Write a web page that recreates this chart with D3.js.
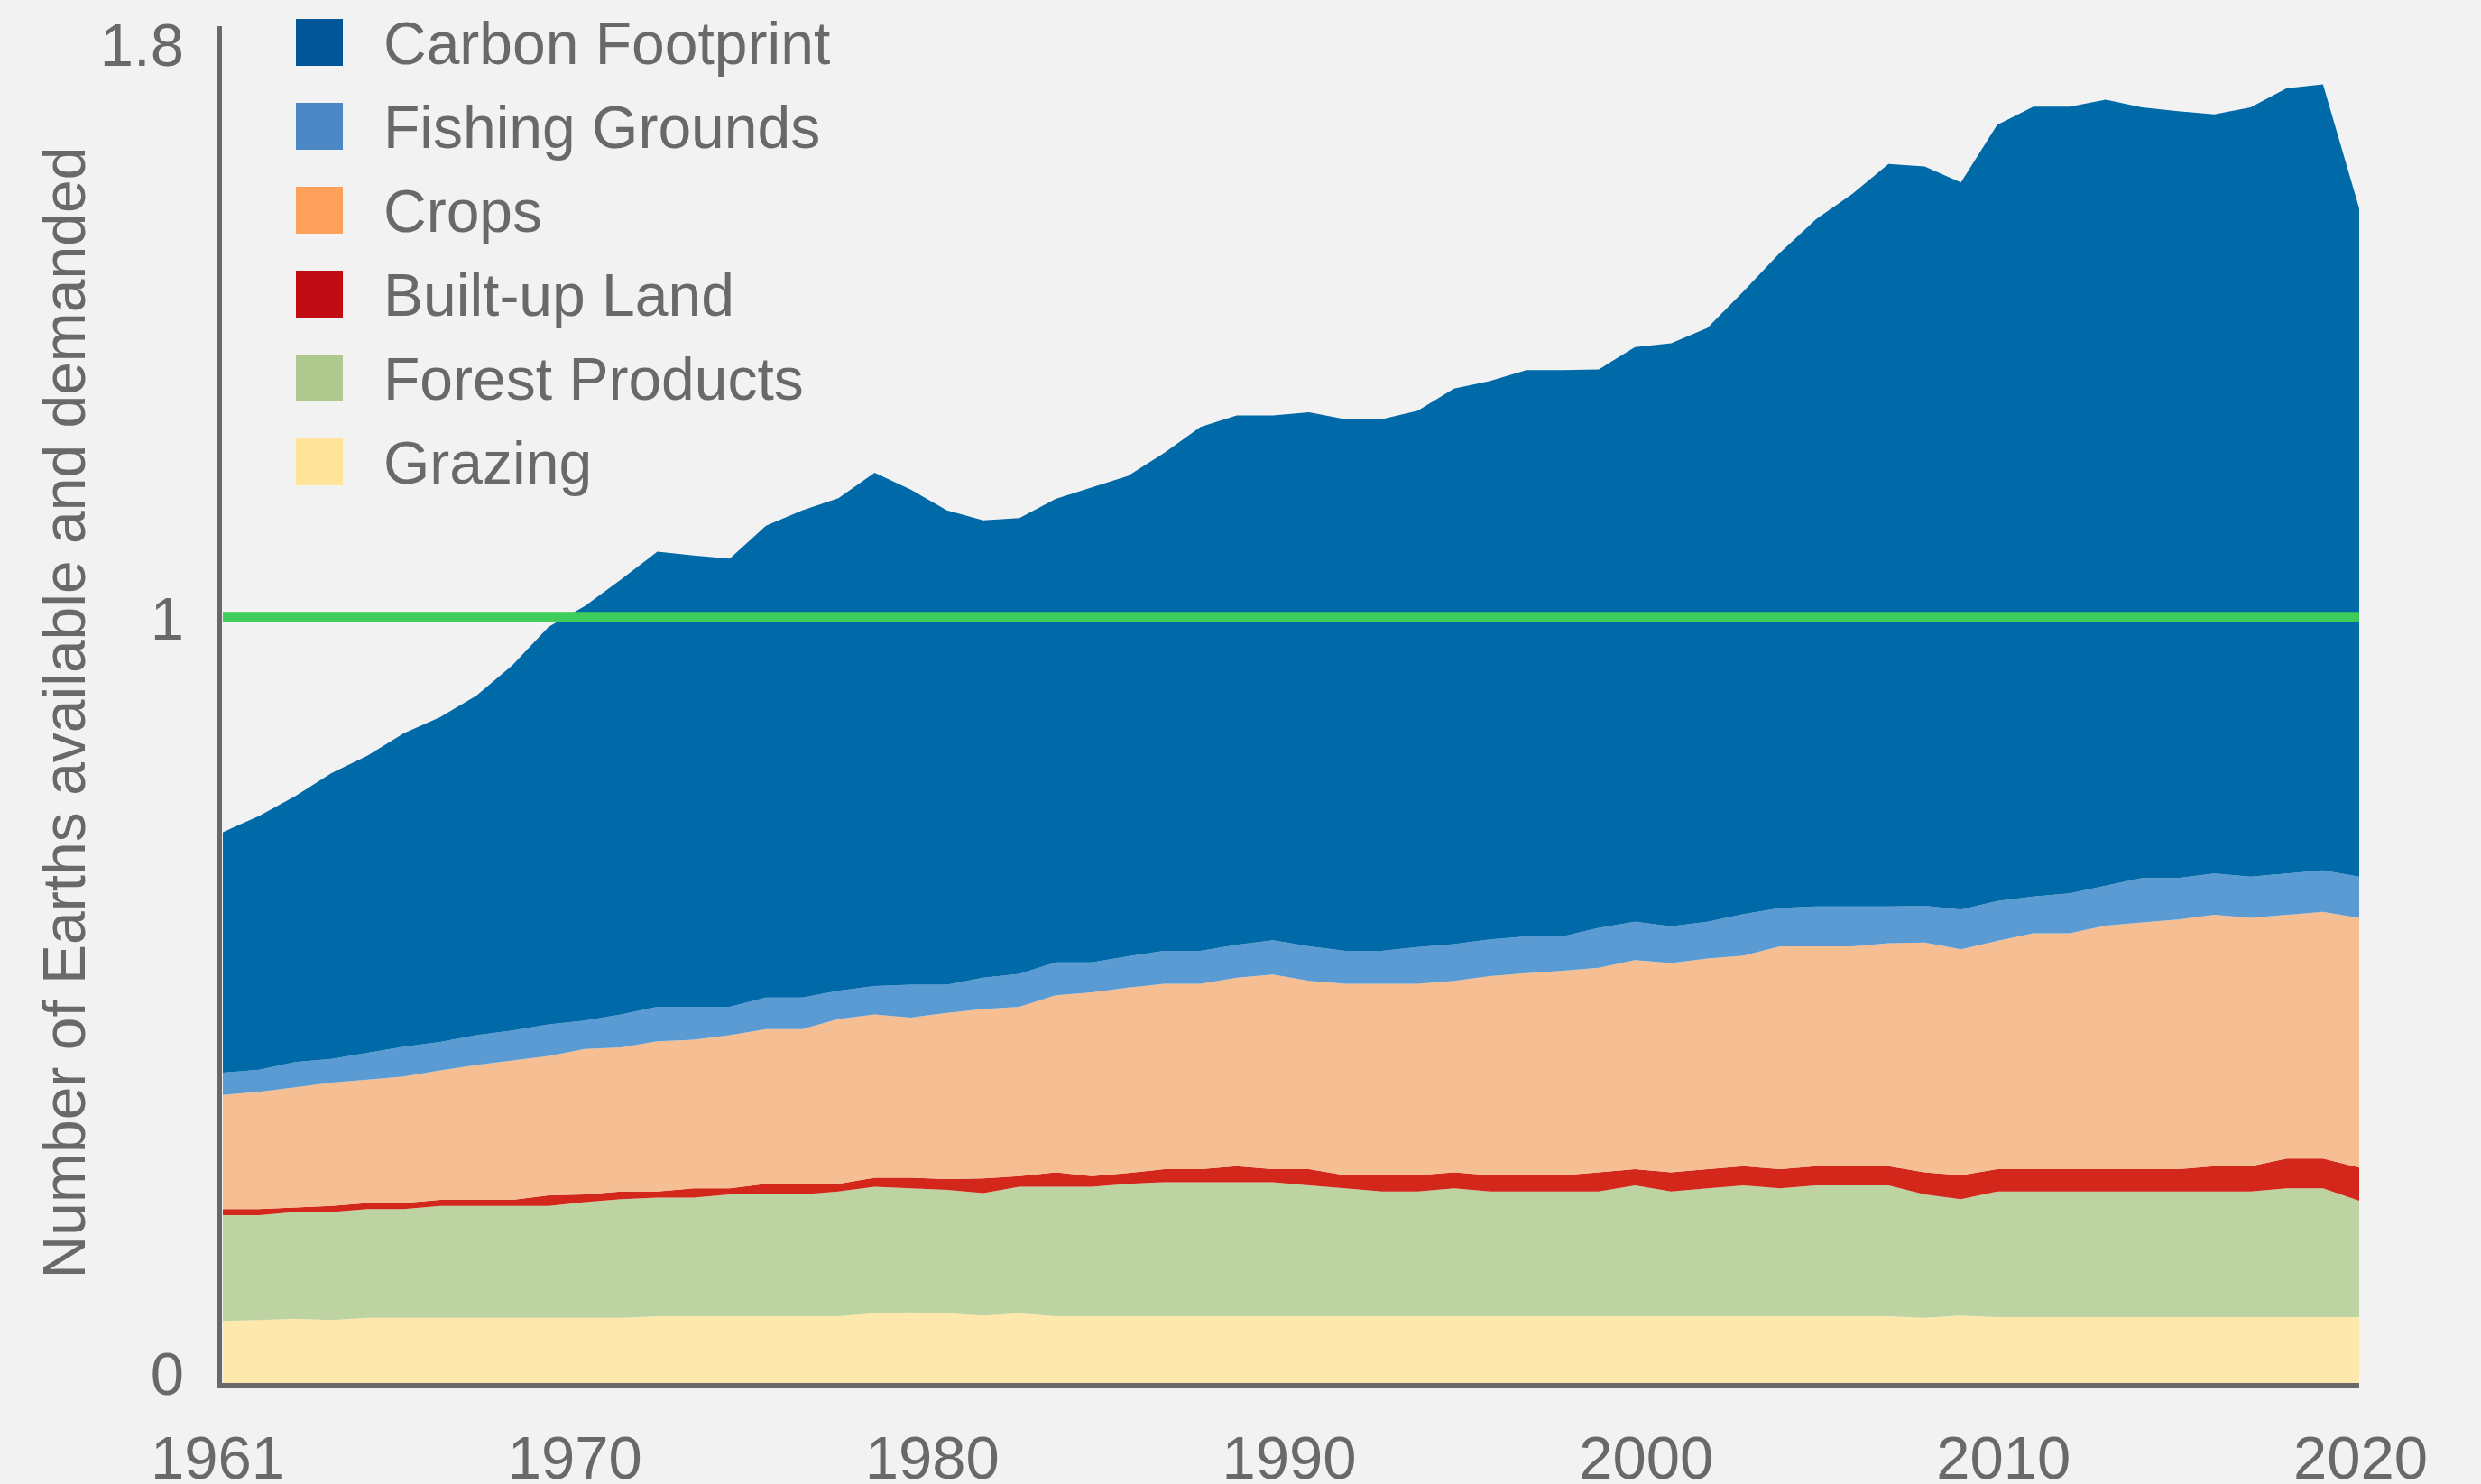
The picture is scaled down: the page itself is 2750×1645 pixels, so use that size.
<!DOCTYPE html>
<html>
<head>
<meta charset="utf-8">
<script src="https://cdn.jsdelivr.net/npm/d3@7"></script>
<style>
  html, body { margin: 0; padding: 0; background: #f2f2f2; }
  svg { display: block; font-family: "Liberation Sans", Arial, sans-serif; }
</style>
</head>
<body>
<div id="chart"></div>
<script>
// ---- data ----
const years = d3.range(1961, 2021);

const grazing = [0.081, 0.082, 0.084, 0.082, 0.085, 0.085, 0.085, 0.085, 0.085, 0.085,
                 0.085, 0.085, 0.087, 0.087, 0.087, 0.087, 0.087, 0.087, 0.091, 0.092,
                 0.091, 0.088, 0.091, 0.087, 0.087, 0.087, 0.087, 0.087, 0.087, 0.087,
                 0.087, 0.087, 0.087, 0.087, 0.087, 0.087, 0.087, 0.087, 0.087, 0.087,
                 0.087, 0.087, 0.087, 0.087, 0.087, 0.087, 0.087, 0.085, 0.088, 0.086,
                 0.086, 0.086, 0.086, 0.086, 0.086, 0.086, 0.086, 0.086, 0.086, 0.086];

const forest = [0.138, 0.137, 0.139, 0.141, 0.142, 0.142, 0.146, 0.146, 0.146, 0.146,
                0.151, 0.155, 0.155, 0.155, 0.159, 0.159, 0.159, 0.163, 0.165, 0.162,
                0.161, 0.160, 0.165, 0.169, 0.169, 0.173, 0.175, 0.175, 0.175, 0.175,
                0.171, 0.167, 0.163, 0.163, 0.167, 0.163, 0.163, 0.163, 0.163, 0.171,
                0.163, 0.167, 0.171, 0.167, 0.171, 0.171, 0.171, 0.161, 0.152, 0.164,
                0.164, 0.164, 0.164, 0.164, 0.164, 0.164, 0.164, 0.168, 0.168, 0.152];

const builtUp = [0.008, 0.008, 0.006, 0.008, 0.008, 0.008, 0.008, 0.008, 0.008, 0.014,
                 0.010, 0.010, 0.008, 0.012, 0.008, 0.014, 0.014, 0.010, 0.012, 0.014,
                 0.014, 0.019, 0.014, 0.019, 0.014, 0.014, 0.017, 0.017, 0.021, 0.017,
                 0.021, 0.017, 0.021, 0.021, 0.021, 0.021, 0.021, 0.021, 0.025, 0.021,
                 0.025, 0.025, 0.025, 0.025, 0.025, 0.025, 0.025, 0.029, 0.031, 0.029,
                 0.029, 0.029, 0.029, 0.029, 0.029, 0.033, 0.033, 0.039, 0.039, 0.043];

const crops = [0.149, 0.153, 0.157, 0.161, 0.161, 0.165, 0.169, 0.176, 0.182, 0.182,
               0.190, 0.188, 0.196, 0.194, 0.200, 0.202, 0.202, 0.215, 0.213, 0.209,
               0.217, 0.221, 0.221, 0.231, 0.240, 0.242, 0.242, 0.242, 0.246, 0.254,
               0.246, 0.250, 0.250, 0.250, 0.250, 0.260, 0.264, 0.267, 0.267, 0.273,
               0.273, 0.275, 0.275, 0.291, 0.287, 0.287, 0.291, 0.300, 0.295, 0.298,
               0.308, 0.308, 0.318, 0.322, 0.326, 0.328, 0.324, 0.318, 0.322, 0.326];

const fishing = [0.029, 0.029, 0.033, 0.031, 0.035, 0.039, 0.037, 0.039, 0.039, 0.041,
                 0.037, 0.043, 0.045, 0.043, 0.037, 0.041, 0.041, 0.037, 0.037, 0.043,
                 0.037, 0.041, 0.043, 0.043, 0.039, 0.041, 0.043, 0.043, 0.043, 0.045,
                 0.045, 0.043, 0.043, 0.048, 0.048, 0.048, 0.048, 0.045, 0.052, 0.050,
                 0.048, 0.048, 0.054, 0.050, 0.052, 0.052, 0.048, 0.048, 0.052, 0.052,
                 0.048, 0.052, 0.052, 0.058, 0.054, 0.054, 0.054, 0.054, 0.054, 0.054];

const carbon = [0.314, 0.331, 0.347, 0.373, 0.388, 0.409, 0.424, 0.443, 0.477, 0.519,
                0.541, 0.568, 0.594, 0.589, 0.585, 0.616, 0.636, 0.643, 0.670, 0.646,
                0.619, 0.597, 0.595, 0.605, 0.620, 0.627, 0.650, 0.684, 0.691, 0.685,
                0.697, 0.694, 0.694, 0.700, 0.725, 0.729, 0.739, 0.739, 0.729, 0.750,
                0.761, 0.775, 0.813, 0.855, 0.897, 0.930, 0.969, 0.965, 0.949, 1.013,
                1.031, 1.027, 1.026, 1.006, 1.001, 0.991, 1.004, 1.025, 1.026, 0.872];

// legend / stacking order, top to bottom
const seriesNames = ["Carbon Footprint", "Fishing Grounds", "Crops", "Built-up Land", "Forest Products", "Grazing"];
const xTickLabels = ["1961", "1970", "1980", "1990", "2000", "2010", "2020"];
const yTickLabels = ["0", "1", "1.8"];
const earthLine = 1;   // one Earth available

// ---- layout ----
const W = 2750, H = 1645;
const plot = { left: 247, right: 2615, bottom: 1533, top: 29 };

const areaColor = {
  "Carbon Footprint": "#0069a7",
  "Fishing Grounds": "#5b9bd3",
  "Crops": "#f5be93",
  "Built-up Land": "#d4271b",
  "Forest Products": "#bdd4a2",
  "Grazing": "#fee8ac"
};
const legendColor = {
  "Carbon Footprint": "#005697",
  "Fishing Grounds": "#4b87c5",
  "Crops": "#ffa05d",
  "Built-up Land": "#c10c15",
  "Forest Products": "#b0c98e",
  "Grazing": "#ffe499"
};
const textColor = "#696969";

const svg = d3.select("#chart").append("svg")
    .attr("width", W)
    .attr("height", H);

svg.append("rect").attr("width", W).attr("height", H).attr("fill", "#f2f2f2");

// table for d3.stack
const table = years.map((yr, i) => ({
  year: yr,
  "Grazing": grazing[i],
  "Forest Products": forest[i],
  "Built-up Land": builtUp[i],
  "Crops": crops[i],
  "Fishing Grounds": fishing[i],
  "Carbon Footprint": carbon[i]
}));

const stackKeys = seriesNames.slice().reverse();   // bottom first
const stacked = d3.stack().keys(stackKeys)(table);

// scales
const x = d3.scaleLinear()
    .domain([1961, 2020])
    .range([plot.left, plot.right]);

// y: 0 at the baseline, 1 at the green line; top of axis sits just under 1.8
const yMax = 1.771;
const y = d3.scaleLinear()
    .domain([0, yMax])
    .range([plot.bottom, plot.top]);

const area = d3.area()
    .x(d => x(d.data.year))
    .y0(d => y(d[0]))
    .y1(d => y(d[1]));

svg.append("g")
  .selectAll("path")
  .data(stacked)
  .join("path")
    .attr("fill", d => areaColor[d.key])
    .attr("d", area);

// one-Earth line
svg.append("line")
    .attr("x1", plot.left)
    .attr("x2", plot.right)
    .attr("y1", y(earthLine))
    .attr("y2", y(earthLine))
    .attr("stroke", "#3ecd5a")
    .attr("stroke-width", 11);

// axis lines
svg.append("line")
    .attr("x1", 243).attr("x2", 243)
    .attr("y1", plot.top).attr("y2", plot.bottom + 6)
    .attr("stroke", textColor).attr("stroke-width", 6);
svg.append("line")
    .attr("x1", 240).attr("x2", plot.right)
    .attr("y1", plot.bottom + 3).attr("y2", plot.bottom + 3)
    .attr("stroke", textColor).attr("stroke-width", 6);

// x tick labels are spaced evenly along the axis
const xLabel = d3.scalePoint()
    .domain(xTickLabels)
    .range([241, 2616]);

const xAxis = d3.axisBottom(xLabel).tickSize(0).tickPadding(0);
const gx = svg.append("g")
    .attr("transform", "translate(0," + 1639 + ")")
    .call(xAxis);
gx.select(".domain").remove();
gx.selectAll("text")
    .attr("y", 0)
    .attr("dy", 0)
    .attr("fill", textColor)
    .style("font-family", "Liberation Sans, Arial, sans-serif")
    .style("font-size", "67px");

// y tick labels
const yTickVals = [0, 1, yMax];
const yShift = [12, 25, 43];   // baseline offsets as in the original
const yAxis = d3.axisLeft(y)
    .tickValues(yTickVals)
    .tickFormat((d, i) => yTickLabels[i])
    .tickSize(0)
    .tickPadding(0);
const gy = svg.append("g")
    .attr("transform", "translate(204,0)")
    .call(yAxis);
gy.select(".domain").remove();
gy.selectAll("text")
    .attr("x", 0)
    .attr("dy", (d, i) => yShift[i])
    .attr("fill", textColor)
    .style("font-family", "Liberation Sans, Arial, sans-serif")
    .style("font-size", "67px");

// y axis title
svg.append("text")
    .attr("transform", "translate(94,790) rotate(-90)")
    .attr("text-anchor", "middle")
    .attr("fill", textColor)
    .style("font-size", "66px")
    .text("Number of Earths available and demanded");

// legend
const legend = svg.append("g")
  .selectAll("g")
  .data(seriesNames)
  .join("g")
    .attr("transform", (d, i) => "translate(328," + (21 + i * 93) + ")");

legend.append("rect")
    .attr("width", 52)
    .attr("height", 52)
    .attr("fill", d => legendColor[d]);

legend.append("text")
    .attr("x", 97)
    .attr("y", 50)
    .attr("fill", textColor)
    .style("font-size", "66px")
    .text(d => d);
</script>
</body>
</html>
